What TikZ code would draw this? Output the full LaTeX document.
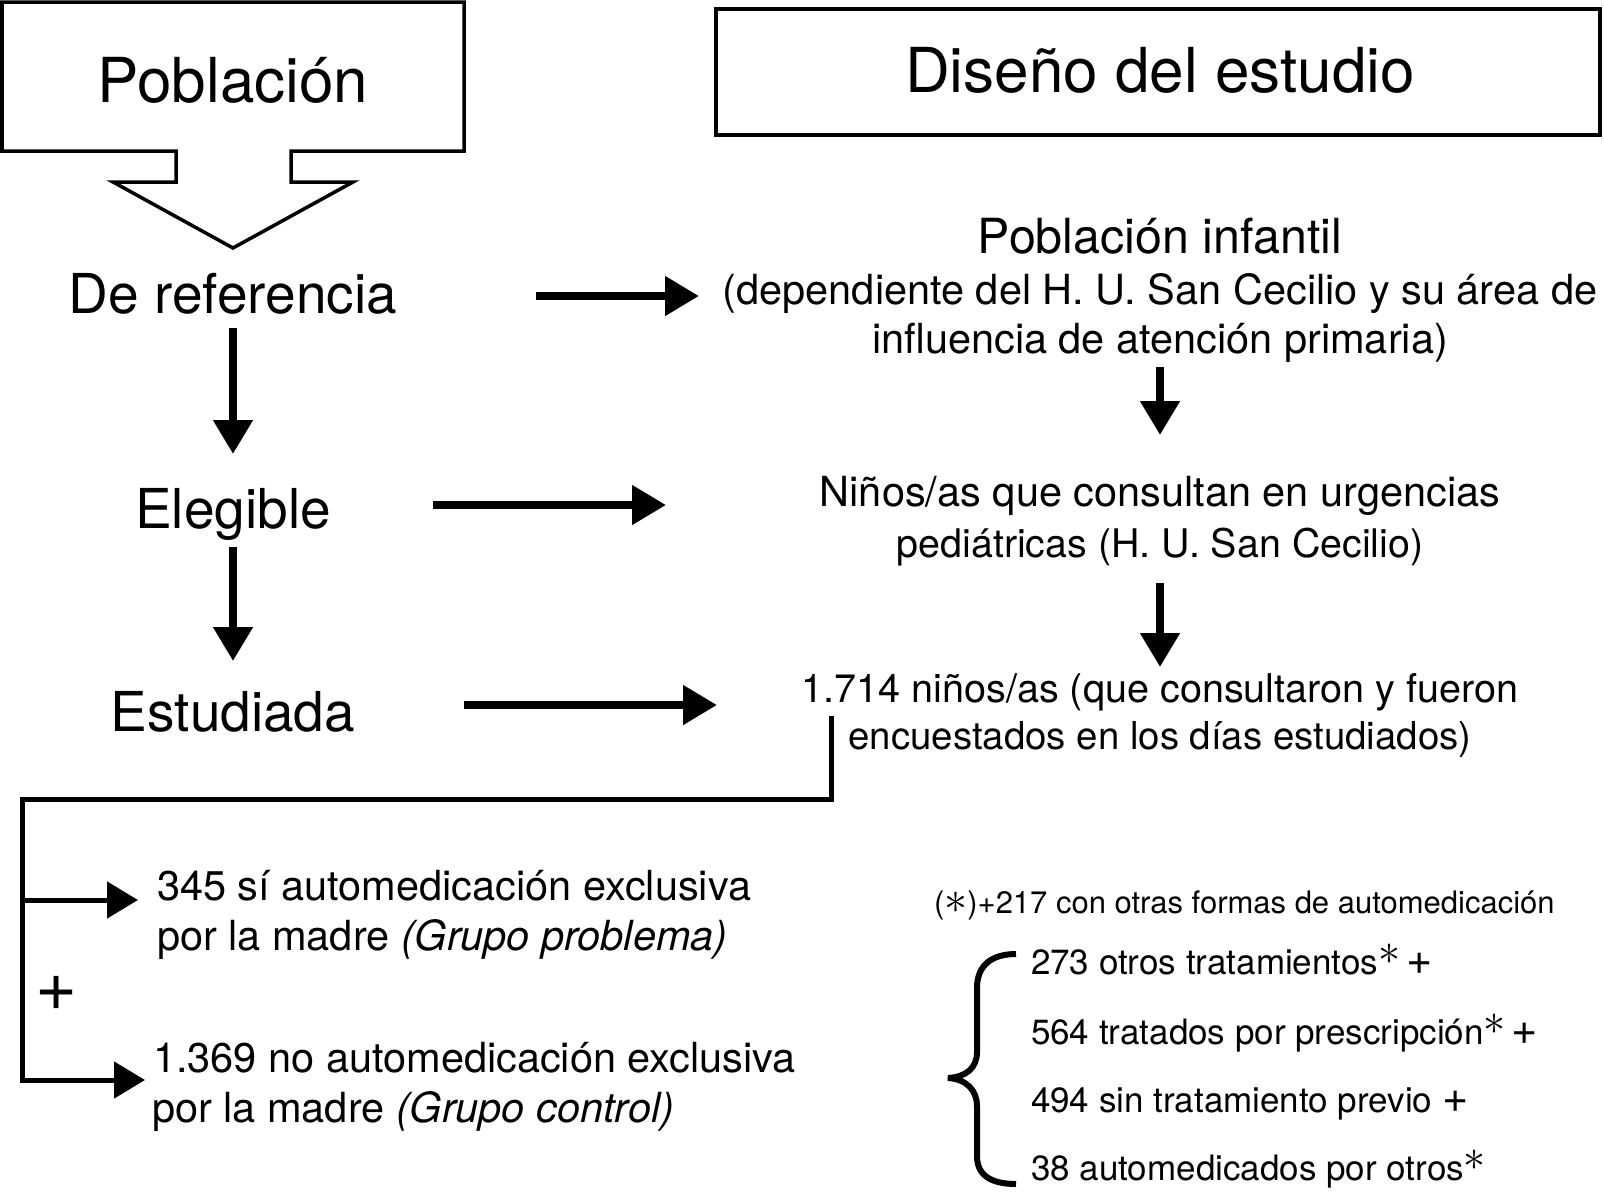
\documentclass[tikz,border=0pt]{standalone}
\usepackage{fix-cm}
\usepackage{fontspec}
\setmainfont{TeX Gyre Heros}
\usetikzlibrary{arrows.meta}
\newcommand\supast{\raisebox{10pt}{\fontsize{44}{44}\selectfont$\ast$}}
\newcommand\opast{{\fontsize{46}{46}\selectfont$\ast$}}
\newcommand\bigplus{{\fontsize{45}{45}\selectfont +}}
\begin{document}
\begin{tikzpicture}[x=1pt,y=-1pt,
  every node/.style={inner sep=0pt,outer sep=0pt},
  boxline/.style={line width=3.5pt,line join=miter},
  bigarrow/.style={line width=8pt,-{Triangle[length=34pt,width=38pt]}},
  thinarrow/.style={line width=5pt,line join=miter,-{Triangle[length=31pt,width=36pt]}},
  titletxt/.style={font=\fontsize{62}{70}\selectfont,anchor=base},
  lbltxt/.style={font=\fontsize{55}{62}\selectfont,anchor=base},
  headtxt/.style={font=\fontsize{48.4}{56}\selectfont,anchor=base},
  bodytxt/.style={font=\fontsize{41.5}{48}\selectfont,anchor=base},
  listtxt/.style={font=\fontsize{35}{40}\selectfont,anchor=base west},
  foottxt/.style={font=\fontsize{31}{38}\selectfont,anchor=base west}]
\useasboundingbox (0,0) rectangle (1604,1194);
\fill[white] (0,0) rectangle (1604,1194);

% Poblacion box with hollow arrow
\draw[boxline] (2,2) -- (464,2) -- (464,151) -- (291,151) -- (291,182) -- (353,182)
  -- (233,248) -- (113,182) -- (176,182) -- (176,151) -- (2,151) -- cycle;
\node[titletxt] (pob) at (233,102) {Población};

% Diseno box
\draw[boxline] (716,9) rectangle (1600,135);
\node[titletxt] (dis) at (1160,92) {Diseño del estudio};

% left labels
\node[lbltxt] (ref) at (233,313) {De referencia};
\node[lbltxt] (eleg) at (233,528) {Elegible};
\node[lbltxt] (est) at (233,731) {Estudiada};

% right column
\node[headtxt] (inf1) at (1160,253) {Población infantil};
\node[bodytxt] (inf2) at (1160,304) {(dependiente del H. U. San Cecilio y su área de};
\node[bodytxt] (inf3) at (1160,353) {influencia de atención primaria)};
\node[bodytxt] (urg1) at (1160,506) {Niños/as que consultan en urgencias};
\node[bodytxt,font=\fontsize{39.4}{48}\selectfont] (urg2) at (1160,557) {pediátricas (H. U. San Cecilio)};
\node[bodytxt,font=\fontsize{39.6}{48}\selectfont] (nin1) at (1160,702) {1.714 niños/as (que consultaron y fueron};
\node[bodytxt,font=\fontsize{38.4}{48}\selectfont] (nin2) at (1160,749) {encuestados en los días estudiados)};

% arrow end points
\coordinate (a1s) at (233,328); \coordinate (a1e) at (233,454);
\coordinate (a2s) at (233,547); \coordinate (a2e) at (233,661);
\coordinate (h1s) at (536,296); \coordinate (h1e) at (699,296);
\coordinate (h2s) at (433,505); \coordinate (h2e) at (666,505);
\coordinate (h3s) at (464,705); \coordinate (h3e) at (717,705);
\coordinate (r1s) at (1160,367); \coordinate (r1e) at (1160,435);
\coordinate (r2s) at (1160,583); \coordinate (r2e) at (1160,667);

\draw[bigarrow] (a1s) -- (a1e);
\draw[bigarrow] (a2s) -- (a2e);
\draw[bigarrow] (h1s) -- (h1e);
\draw[bigarrow] (h2s) -- (h2e);
\draw[bigarrow] (h3s) -- (h3e);
\draw[bigarrow] (r1s) -- (r1e);
\draw[bigarrow] (r2s) -- (r2e);

% branching connector
\coordinate (c0) at (831,716);
\coordinate (c1) at (22,799);
\coordinate (b1s) at (22,900); \coordinate (b1e) at (138,900);
\coordinate (b2e) at (145,1080);
\draw[thinarrow] (c0) |- (c1) |- (b2e);
\draw[thinarrow] (b1s) -- (b1e);
\node[anchor=center,font=\fontsize{72}{72}\selectfont] (plus) at (57,993) {+};

\node[bodytxt,anchor=base west] (g1a) at (157,900) {345 sí automedicación exclusiva};
\node[bodytxt,anchor=base west] (g1b) at (157,950) {por la madre \textit{(Grupo problema)}};
\node[bodytxt,anchor=base west] (g2a) at (153,1072) {1.369 no automedicación exclusiva};
\node[bodytxt,anchor=base west] (g2b) at (152,1122) {por la madre \textit{(Grupo control)}};

% right bottom list
\node[foottxt] (fn) at (934,913) {(\opast)+217 con otras formas de automedicación};
\node[listtxt] (l1) at (1031,974) {273 otros tratamientos\supast\hspace{6pt}\bigplus};
\node[listtxt] (l2) at (1031,1044) {564 tratados por prescripción\supast\hspace{6pt}\bigplus};
\node[listtxt] (l3) at (1031,1112) {494 sin tratamiento previo \bigplus};
\node[listtxt] (l4) at (1031,1180) {38 automedicados por otros\supast};

\draw[line width=6pt] (1016,954) .. controls (992,954) and (977,965) .. (977,988)
  -- (977,1052) .. controls (977,1068) and (966,1077) .. (948,1078)
  .. controls (966,1079) and (977,1090) .. (977,1106)
  -- (977,1156) .. controls (977,1176) and (992,1184) .. (1016,1184);
\end{tikzpicture}
\end{document}
